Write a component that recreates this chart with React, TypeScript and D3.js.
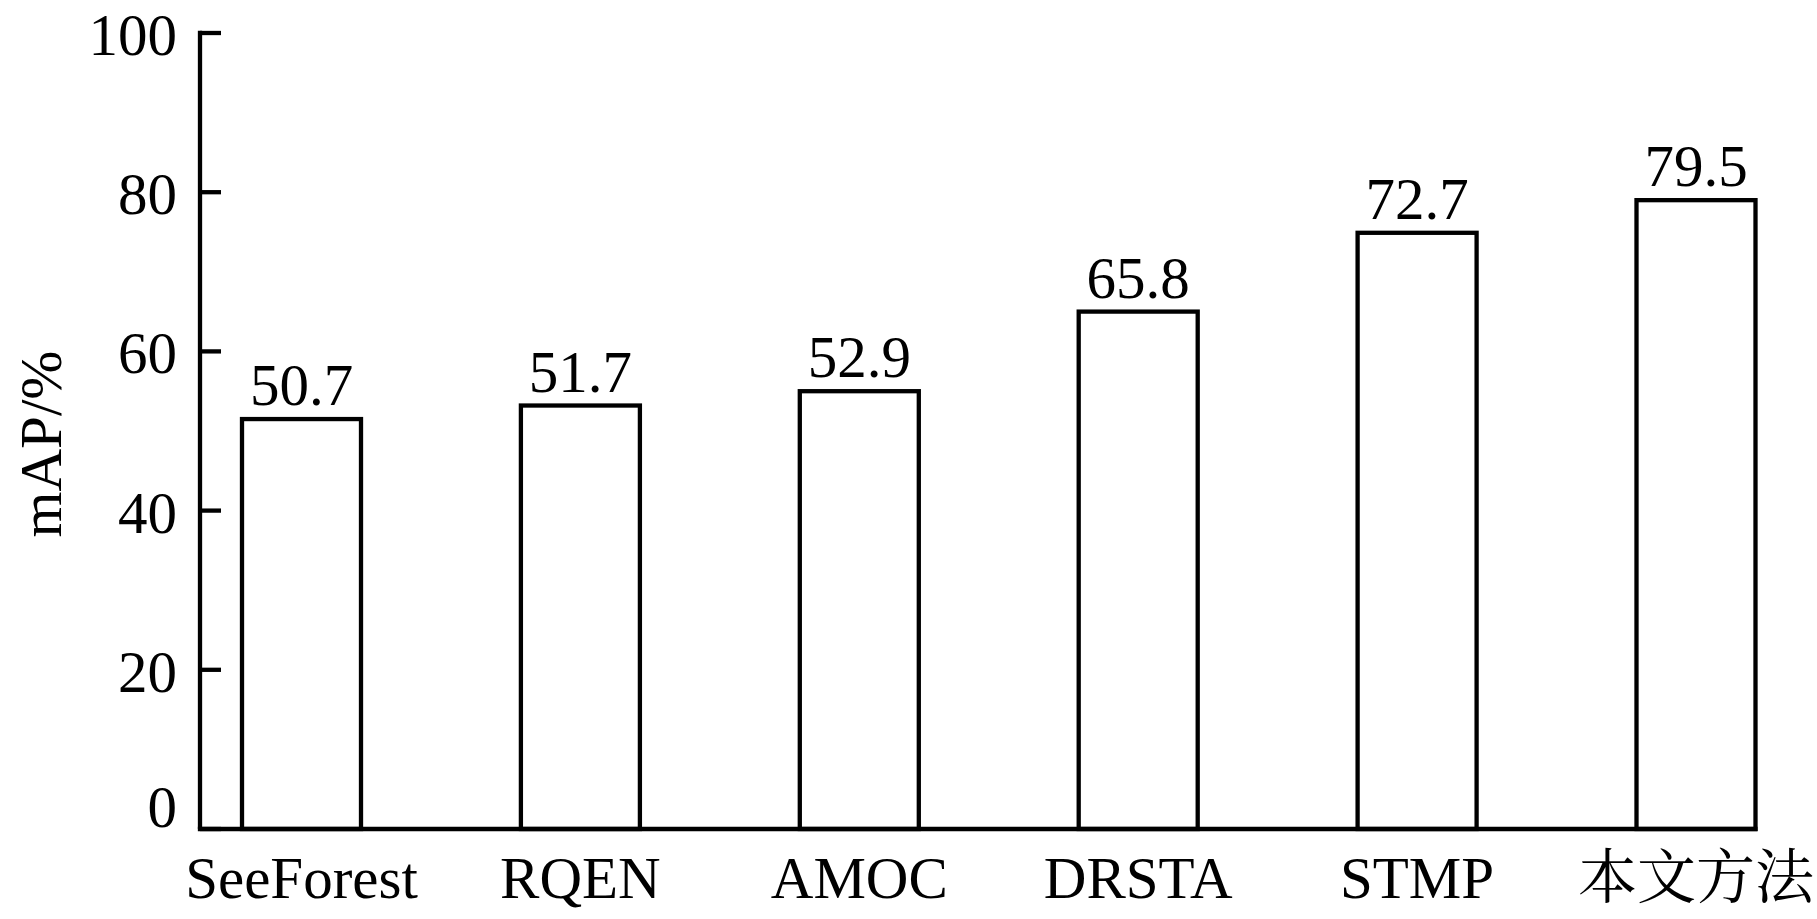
import React from "react";
import * as d3 from "d3";

const categories = ["SeeForest", "RQEN", "AMOC", "DRSTA", "STMP", "本文方法"];
// bar heights as drawn in the picture
const barValues = [51.5, 53.2, 55.0, 65.0, 74.9, 79.0];
// value labels as printed above the bars
const valueLabels = ["50.7", "51.7", "52.9", "65.8", "72.7", "79.5"];
const yTicks = [0, 20, 40, 60, 80, 100];
const yTitle = "mAP/%";

const W = 1817;
const H = 919;
const FONT = "'Liberation Serif', 'Times New Roman', 'Noto Serif CJK SC', 'Noto Sans CJK SC', serif";

export default function App() {
  const y = d3.scaleLinear().domain([0, 100]).range([829, 33]);
  const x = d3.scalePoint<string>().domain(categories).range([301.5, 1696]);
  const barW = 119;
  const axisX = 200;
  const axisRight = (x(categories[categories.length - 1]) as number) + barW / 2 + 2;
  const sw = 4.3;

  return (
    <div style={{ position: "absolute", left: 0, top: 0 }}>
      <svg width={W} height={H} style={{ display: "block", background: "#fff" }}>
        {/* bars */}
        {categories.map((c, i) => {
          const cx = x(c) as number;
          return (
            <rect
              key={c}
              x={cx - barW / 2}
              y={y(barValues[i])}
              width={barW}
              height={y(0) - y(barValues[i])}
              fill="#fff"
              stroke="#000"
              strokeWidth={sw}
            />
          );
        })}
        {/* value labels */}
        {categories.map((c, i) => (
          <text
            key={"v" + c}
            x={x(c) as number}
            y={y(barValues[i]) - 14}
            textAnchor="middle"
            fontFamily={FONT}
            fontSize={59}
            fill="#000"
          >
            {valueLabels[i]}
          </text>
        ))}
        {/* y axis */}
        <line x1={axisX} x2={axisX} y1={y(100) - sw / 2} y2={y(0)} stroke="#000" strokeWidth={sw} />
        {yTicks.map((t) => (
          <g key={"t" + t}>
            <line x1={axisX} x2={axisX + 21} y1={y(t)} y2={y(t)} stroke="#000" strokeWidth={sw} />
            <text
              x={177}
              y={t === 0 ? y(t) - 2 : y(t) + 22}
              textAnchor="end"
              fontFamily={FONT}
              fontSize={59}
              fill="#000"
            >
              {t}
            </text>
          </g>
        ))}
        {/* x axis */}
        <line x1={axisX - sw / 2} x2={axisRight} y1={y(0)} y2={y(0)} stroke="#000" strokeWidth={sw} />
        {categories.map((c) => (
          <text
            key={"c" + c}
            x={x(c) as number}
            y={898}
            textAnchor="middle"
            fontFamily={FONT}
            fontSize={59}
            fill="#000"
          >
            {c}
          </text>
        ))}
        {/* y title */}
        <text
          transform={`translate(61, 444) rotate(-90)`}
          textAnchor="middle"
          fontFamily={FONT}
          fontSize={59}
          fill="#000"
        >
          {yTitle}
        </text>
      </svg>
    </div>
  );
}
